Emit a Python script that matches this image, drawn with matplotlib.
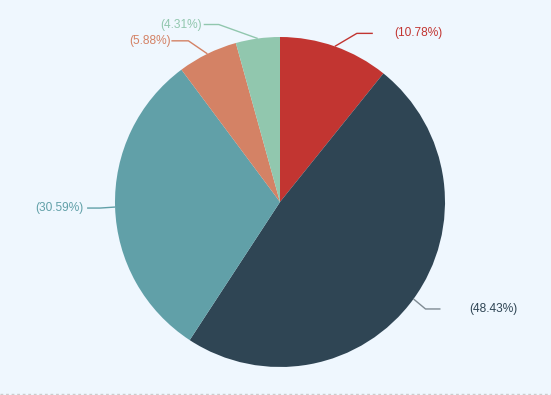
import numpy as np
import matplotlib
matplotlib.use("Agg")
import matplotlib.pyplot as plt

# slice values (percent), clockwise from 12 o'clock
labels = ["(10.78%)", "(48.43%)", "(30.59%)", "(5.88%)", "(4.31%)"]
values = [10.78, 48.43, 30.59, 5.88, 4.31]
colors = ["#c23531", "#2f4554", "#61a0a8", "#d48265", "#91c7ae"]
line_colors = ["#c23531", "#7f8b93", "#61a0a8", "#d48265", "#91c7ae"]

# leader line layout: elbow offset from wedge edge (px), horizontal run, text gap
elbow_off = [(22, -13), (12, 10), (-15, 1), (-19, -13), (-39, -14)]
run = [16, 15, 13, 17, 15]
gap = [21, 29, 4, 1, 2]

W, H = 551, 395
bg = "#eff7fe"
cx, cy, r = 280, 202, 165

fig = plt.figure(figsize=(W / 100, H / 100), dpi=100)
fig.patch.set_facecolor(bg)
ax = fig.add_axes([0, 0, 1, 1])
ax.set_facecolor(bg)

wedges, _ = ax.pie(values, colors=colors, startangle=-90, counterclock=True,
                   center=(cx, cy), radius=r, frame=True,
                   wedgeprops=dict(linewidth=0))
ax.set_xlim(0, W)
ax.set_ylim(H, 0)
ax.set_aspect("equal")
ax.axis("off")

for w, lab, col, lc, (dx, dy), ln, g in zip(wedges, labels, colors, line_colors,
                                            elbow_off, run, gap):
    th = np.deg2rad((w.theta1 + w.theta2) / 2)
    ex, ey = cx + r * np.cos(th), cy + r * np.sin(th)
    bx, by = ex + dx, ey + dy
    side = 1 if bx > cx else -1
    tx = bx + side * ln
    ax.plot([ex, bx, tx], [ey, by, by], color=lc, lw=1, solid_capstyle="butt")
    ax.text(tx + side * g, by, lab, color=col, fontsize=8.6,
            family="Liberation Sans", va="center",
            ha="left" if side > 0 else "right")

# dotted border at the bottom
ax.plot([0, W], [H - 1, H - 1], color="#cccccc", lw=1, ls=(0, (2, 2)))

fig.savefig("out.png", dpi=100, facecolor=bg)
